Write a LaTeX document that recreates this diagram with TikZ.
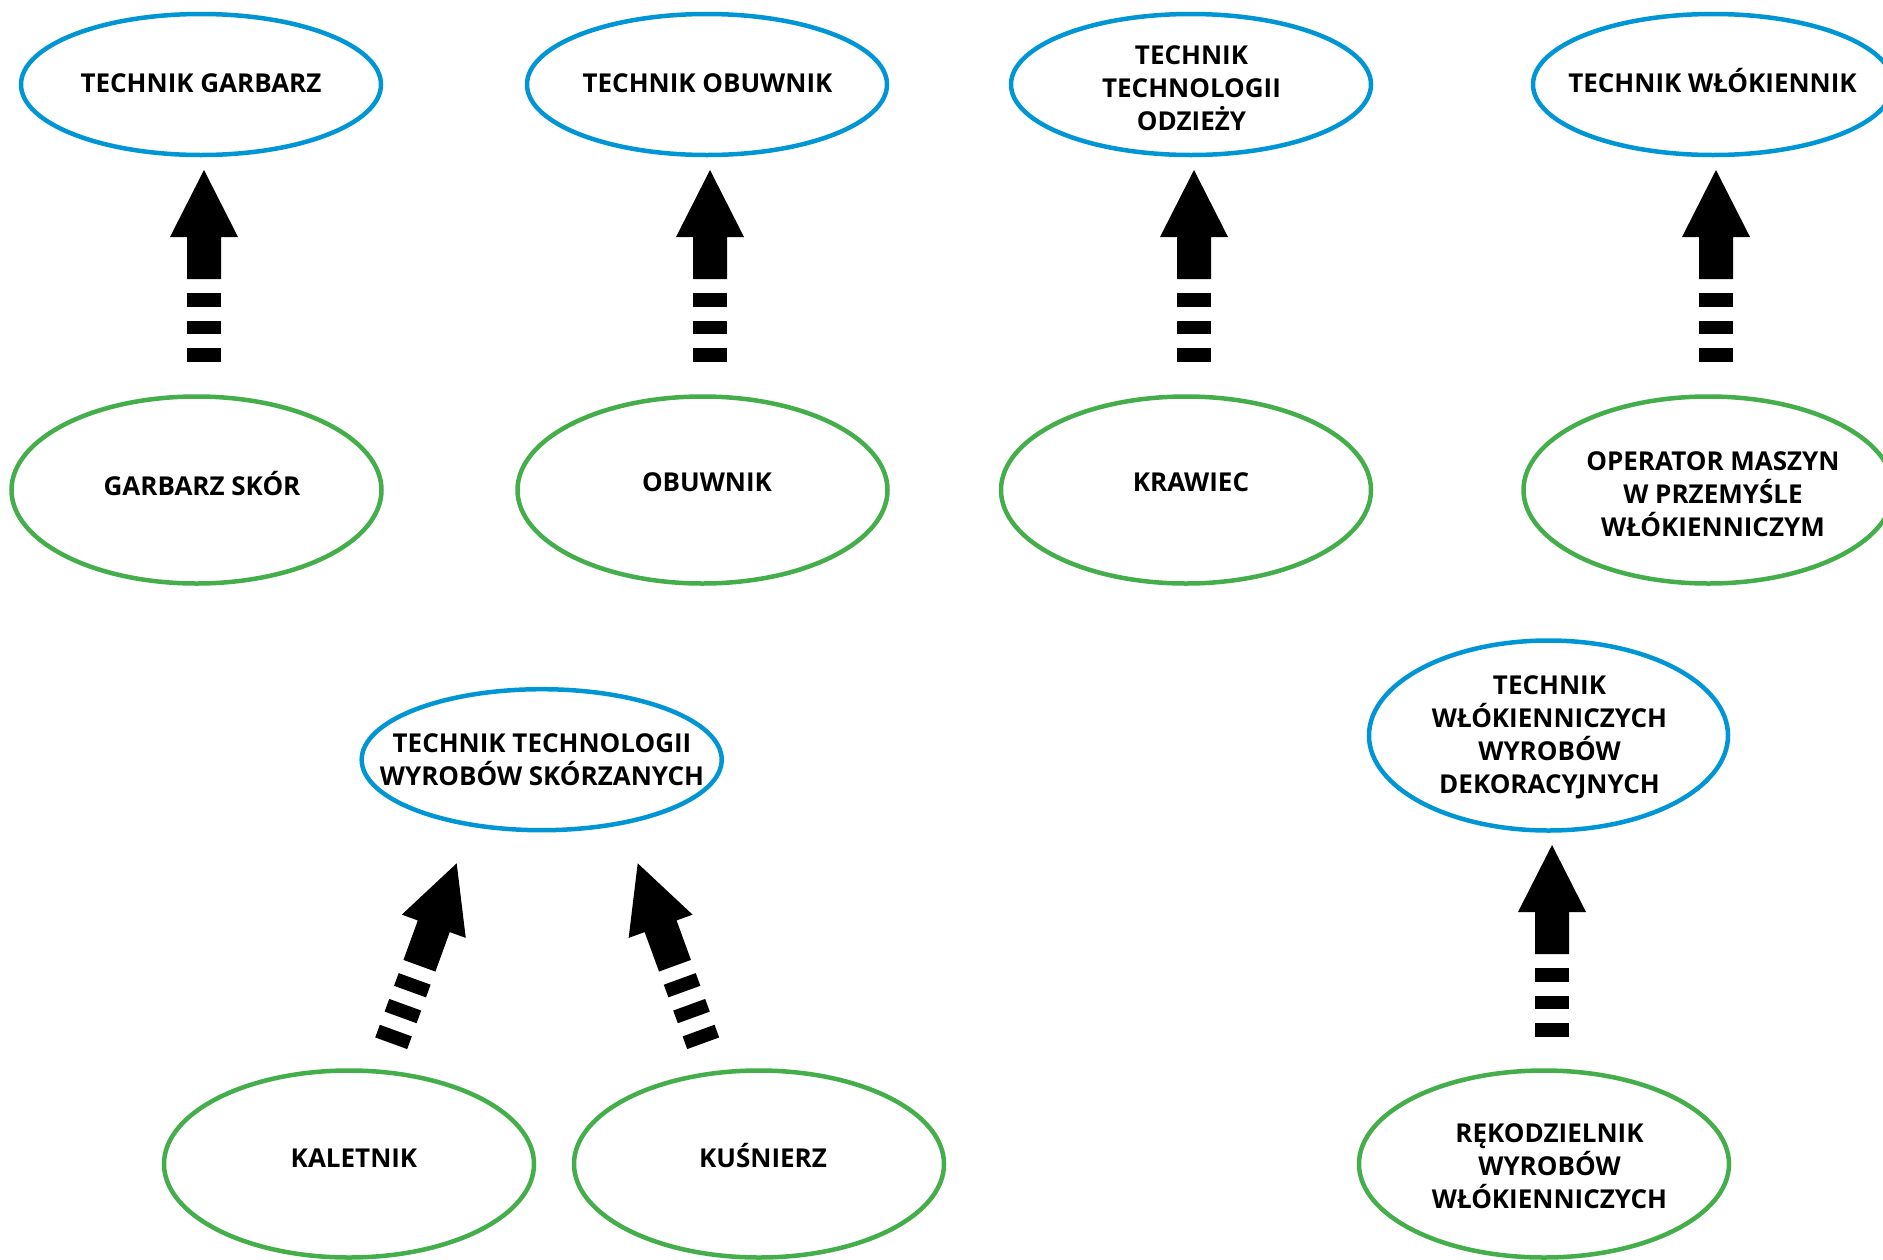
\documentclass[tikz,border=0pt]{standalone}
\usepackage{fontspec}
\setmainfont{Open Sans}
\usetikzlibrary{shapes.geometric}
\definecolor{ellblue}{RGB}{0,150,214}
\definecolor{ellgreen}{RGB}{67,174,74}
\begin{document}
\begin{tikzpicture}[x=1pt,y=-1pt,
  blueell/.style={ellipse, draw=ellblue, line width=4.5pt, inner sep=0pt, minimum width=360pt, minimum height=141pt},
  greenell/.style={ellipse, draw=ellgreen, line width=4.5pt, inner sep=0pt, minimum width=370pt, minimum height=187pt},
  lbl/.style={inner sep=0pt, font=\bfseries\fontsize{26}{33}\selectfont, align=center},
  blockarrow/.pic={
    \fill (0,0) -- (34,67) -- (17,67) -- (17,109) -- (-17,109) -- (-17,67) -- (-34,67) -- cycle;
    \fill (-17,123) rectangle (17,136.5);
    \fill (-17,150.5) rectangle (17,164);
    \fill (-17,178) rectangle (17,191.5);
  }]
\clip (0,0) rectangle (1883,1259);
\fill[white] (0,0) rectangle (1883,1259);

% top row: technicians
\node[blueell] (t1) at (201,84.5) {};
\node[blueell] (t2) at (707,84.5) {};
\node[blueell] (t3) at (1191,84.5) {};
\node[blueell] (t4) at (1713,84.5) {};
\node[lbl, anchor=base] (t1l) at (201,92) {TECHNIK GARBARZ};
\node[lbl, anchor=base] (t2l) at (707.5,92) {TECHNIK OBUWNIK};
\node[lbl, anchor=north] (t3l) at (1191.5,45) {TECHNIK\\TECHNOLOGII\\ODZIEŻY};
\node[lbl, anchor=base] (t4l) at (1712.5,92) {TECHNIK WŁÓKIENNIK};

% second row: trades
\node[greenell] (g1) at (196.5,490) {};
\node[greenell] (g2) at (702.5,490) {};
\node[greenell] (g3) at (1186,490) {};
\node[greenell] (g4) at (1708.5,490) {};
\node[lbl, anchor=base] (g1l) at (202,495) {GARBARZ SKÓR};
\node[lbl, anchor=base] (g2l) at (707,491.7) {OBUWNIK};
\node[lbl, anchor=base] (g3l) at (1191,491.7) {KRAWIEC};
\node[lbl, anchor=north] (g4l) at (1713,451.6) {OPERATOR MASZYN\\W PRZEMYŚLE\\WŁÓKIENNICZYM};

% bottom: leather goods
\node[blueell] (t5) at (541.7,759.7) {};
\node[lbl, anchor=north] (t5l) at (542,733.3) {TECHNIK TECHNOLOGII\\WYROBÓW SKÓRZANYCH};
\node[greenell] (g5) at (349,1164) {};
\node[greenell] (g6) at (759,1164) {};
\node[lbl, anchor=base] (g5l) at (354,1167.3) {KALETNIK};
\node[lbl, anchor=base] (g6l) at (763,1167) {KUŚNIERZ};

% bottom: decorative textiles
\node[blueell, minimum height=190pt, minimum width=359pt] (t6) at (1548.5,735.5) {};
\node[lbl, anchor=north] (t6l) at (1549.5,675) {TECHNIK\\WŁÓKIENNICZYCH\\WYROBÓW\\DEKORACYJNYCH};
\node[greenell] (g7) at (1544,1164) {};
\node[lbl, anchor=north] (g7l) at (1549.5,1123) {RĘKODZIELNIK\\WYROBÓW\\WŁÓKIENNICZYCH};

% arrow tips
\coordinate (a1) at (204,170);
\coordinate (a2) at (710,170);
\coordinate (a3) at (1194,170);
\coordinate (a4) at (1716,170);
\coordinate (a5) at (1552,845);
\coordinate (a6) at (456.7,863.3);
\coordinate (a7) at (637.7,863.3);

\pic at (a1) {blockarrow};
\pic at (a2) {blockarrow};
\pic at (a3) {blockarrow};
\pic at (a4) {blockarrow};
\pic at (a5) {blockarrow};
\pic[rotate=-20] at (a6) {blockarrow};
\pic[rotate=20] at (a7) {blockarrow};
\end{tikzpicture}
\end{document}
